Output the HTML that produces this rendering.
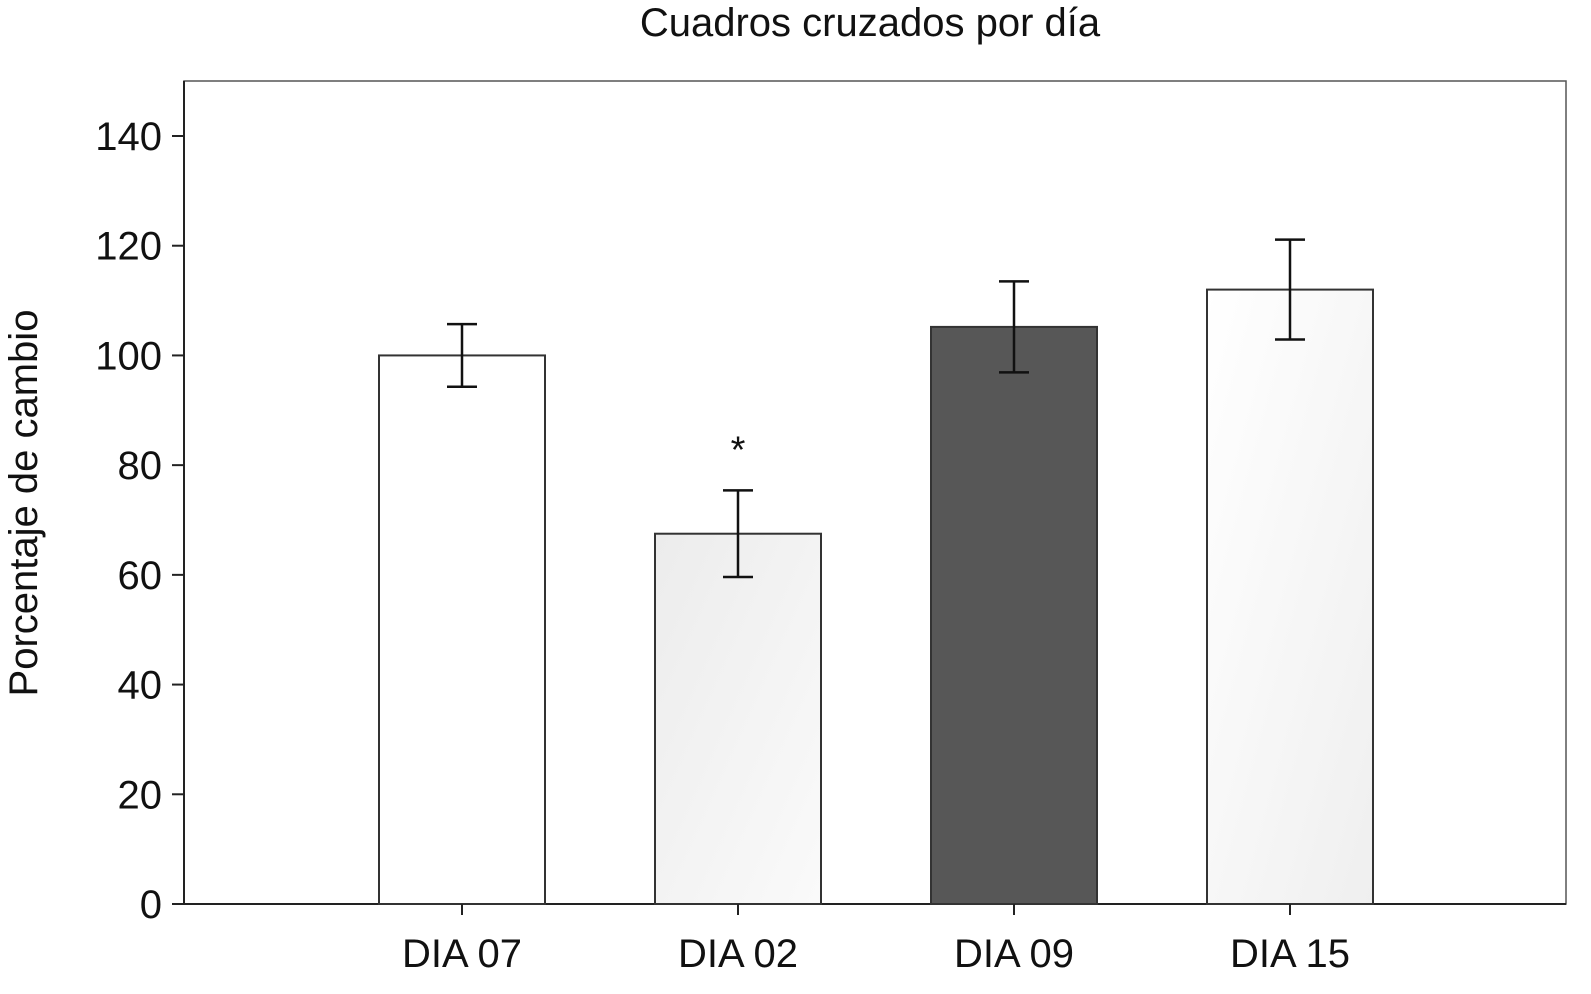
<!DOCTYPE html>
<html><head><meta charset="utf-8">
<style>
html,body{margin:0;padding:0;background:#fff;}
svg text{font-family:"Liberation Sans",sans-serif;fill:#111;}
</style></head>
<body>
<svg id="chart" width="1591" height="989" viewBox="0 0 1591 989" xmlns="http://www.w3.org/2000/svg">
<defs>
<linearGradient id="g2" x1="0" y1="0" x2="1" y2="1"><stop offset="0" stop-color="#ececec"/><stop offset="1" stop-color="#fafafa"/></linearGradient>
<linearGradient id="g4" x1="0" y1="0" x2="1" y2="1"><stop offset="0" stop-color="#ffffff"/><stop offset="1" stop-color="#efefef"/></linearGradient>
</defs>
<text x="870" y="36" font-size="40" text-anchor="middle">Cuadros cruzados por día</text>
<text transform="translate(37,503) rotate(-90)" font-size="40" text-anchor="middle">Porcentaje de cambio</text>
<rect x="184" y="81" width="1382" height="823" fill="none" stroke="#555" stroke-width="1.5"/>
<g id="marks"></g>
</svg>
<script>
const categories = ["DIA 07","DIA 02","DIA 09","DIA 15"];
const values = [100, 67.5, 105.2, 112];
const errors = [5.7, 7.9, 8.3, 9.1];
const fills = ["#ffffff","url(#g2)","#575757","url(#g4)"];
const yTicks = [0,20,40,60,80,100,120,140];
const starred = [false,true,false,false];

const NS="http://www.w3.org/2000/svg";
const g=document.getElementById('marks');
const y0=904, yTop140=136, xLeft=184, xRight=1566;
const yScale=v=>y0-(v/140)*(y0-yTop140);
const step=276, firstCenter=462, barW=166;
const xScale=i=>firstCenter+i*step;
function mk(tag,attrs){const e=document.createElementNS(NS,tag);for(const k in attrs)e.setAttribute(k,attrs[k]);g.appendChild(e);return e;}

let ax=mk('line',{x1:xLeft,y1:y0,x2:xRight,y2:y0,stroke:'#222','stroke-width':2});


let ay=mk('line',{x1:xLeft,y1:81,x2:xLeft,y2:y0,stroke:'#222','stroke-width':2});



yTicks.forEach(v=>{
  const y=yScale(v);
  const t=mk('line',{x1:172,y1:y,x2:xLeft,y2:y,stroke:'#222','stroke-width':2});
  
  
  const l=mk('text',{x:162,y:y+14,'font-size':40,'text-anchor':'end'});
  l.textContent=v;
  
  
});

categories.forEach((c,i)=>{
  const cx=xScale(i);
  const top=yScale(values[i]);
  const r=mk('rect',{x:cx-barW/2,y:top,width:barW,height:y0-top,fill:fills[i],stroke:'#333','stroke-width':2});
  
  
  const hi=yScale(values[i]+errors[i]), lo=yScale(values[i]-errors[i]);
  const e=mk('path',{d:`M${cx},${hi}V${lo}M${cx-15},${hi}H${cx+15}M${cx-15},${lo}H${cx+15}`,stroke:'#111','stroke-width':2.5,fill:'none'});
  
  
  const t=mk('line',{x1:cx,y1:y0,x2:cx,y2:y0+11,stroke:'#222','stroke-width':2});
  
  
  const l=mk('text',{x:cx,y:967,'font-size':40,'text-anchor':'middle'});
  l.textContent=c;
  
  
  if(starred[i]){
    const s=mk('text',{x:cx,y:hi-28,'font-size':38,'text-anchor':'middle'});
    s.textContent='*';
    
    
  }
});
</script>
</body></html>
